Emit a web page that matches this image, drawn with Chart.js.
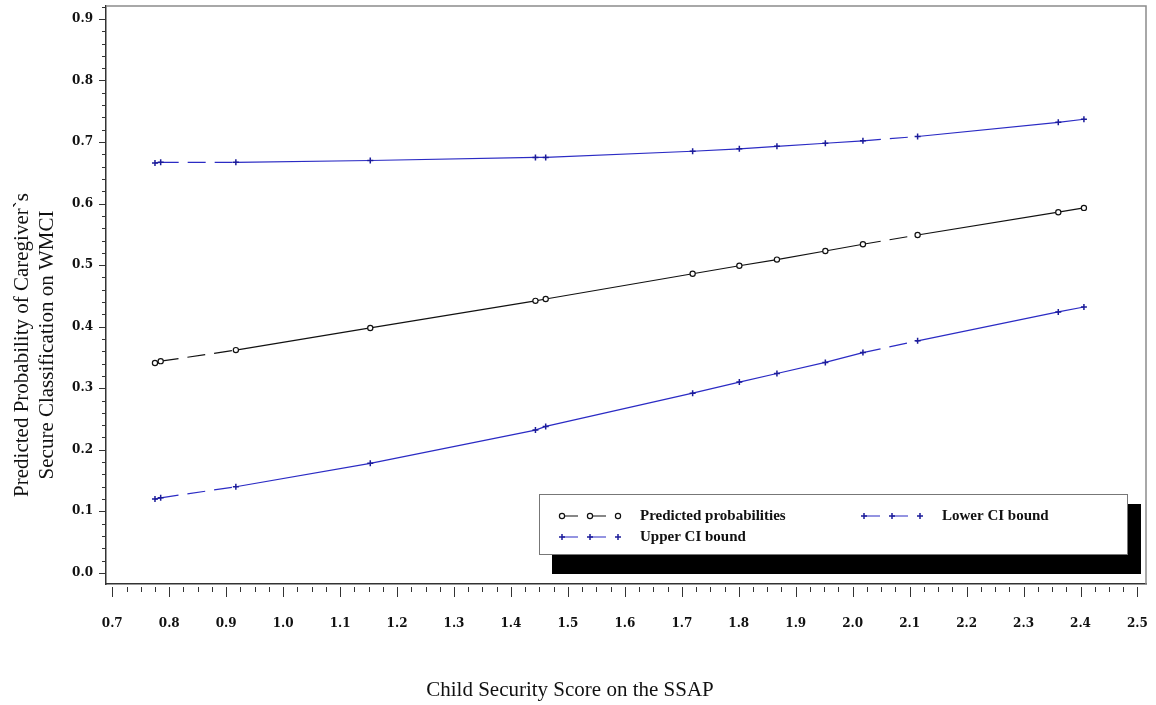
<!DOCTYPE html>
<html>
<head>
<meta charset="utf-8">
<script src="https://cdn.jsdelivr.net/npm/chart.js@4.4.0/dist/chart.umd.min.js"></script>
<style>
  html, body { margin: 0; padding: 0; background: #fff; }
  #wrap { width: 1156px; height: 705px; }
</style>
</head>
<body>
<div id="wrap"><canvas id="probChart" width="1156" height="705"></canvas></div>
<script>
// Child security score (x) of each fitted point
const securityScores = [0.775, 0.785, 0.917, 1.153, 1.443, 1.461, 1.719, 1.801, 1.867, 1.952, 2.018, 2.114, 2.361, 2.406];
// Predicted probability and its confidence bounds at those scores
const predicted = [0.341, 0.344, 0.362, 0.398, 0.442, 0.445, 0.486, 0.499, 0.509, 0.523, 0.534, 0.549, 0.586, 0.593];
const upperCI   = [0.666, 0.667, 0.667, 0.670, 0.675, 0.675, 0.685, 0.689, 0.693, 0.698, 0.702, 0.709, 0.732, 0.737];
const lowerCI   = [0.120, 0.122, 0.140, 0.178, 0.232, 0.238, 0.292, 0.310, 0.324, 0.342, 0.358, 0.377, 0.424, 0.432];

// tick labels
const xTicks = [0.7, 0.8, 0.9, 1.0, 1.1, 1.2, 1.3, 1.4, 1.5, 1.6, 1.7, 1.8, 1.9, 2.0, 2.1, 2.2, 2.3, 2.4, 2.5];
const yTicks = [0.0, 0.1, 0.2, 0.3, 0.4, 0.5, 0.6, 0.7, 0.8, 0.9];

const xTitle = 'Child Security Score on the SSAP';
const yTitle = ['Predicted Probability of Caregiver`s', 'Secure Classification on WMCI'];

// segments the SAS dash pattern shows as broken
const dashedSegments = [1, 10];

const BLUE = '#2b2bc4';
const tickFont = { family: '"DejaVu Serif"', size: 12, weight: 'bold' };

function points(values) {
    return securityScores.map((x, i) => ({ x: x, y: values[i] }));
}

function dashFor(ctx) {
    return dashedSegments.includes(ctx.p0DataIndex) ? [18, 9] : undefined;
}

// frame, minor/major tick marks, axis titles and the boxed legend
const sasDecor = {
    id: 'sasDecor',
    afterDraw(chart) {
        const { ctx, chartArea: a, scales: { x, y } } = chart;
        ctx.save();

        // grey frame on top and right
        ctx.strokeStyle = '#8c8c8c';
        ctx.lineWidth = 1.5;
        ctx.beginPath();
        ctx.moveTo(a.left, a.top);
        ctx.lineTo(a.right, a.top);
        ctx.lineTo(a.right, a.bottom);
        ctx.stroke();

        // y ticks: every 0.02, major every 0.1
        ctx.strokeStyle = '#333';
        ctx.lineWidth = 1;
        for (let k = 0; k <= 46; k++) {
            const py = Math.round(y.getPixelForValue(k * 0.02)) + 0.5;
            const len = k % 5 === 0 ? 7 : 4;
            ctx.beginPath();
            ctx.moveTo(a.left - len, py);
            ctx.lineTo(a.left, py);
            ctx.stroke();
        }
        // x ticks: every 0.025, major every 0.1, slightly below the axis
        for (let k = 0; k <= 72; k++) {
            const px = Math.round(x.getPixelForValue(0.7 + k * 0.025)) + 0.5;
            const len = k % 4 === 0 ? 10 : 5;
            ctx.beginPath();
            ctx.moveTo(px, a.bottom + 3);
            ctx.lineTo(px, a.bottom + 3 + len);
            ctx.stroke();
        }

        // axis titles
        ctx.fillStyle = '#111';
        ctx.font = '21px "Liberation Serif"';
        ctx.textAlign = 'center';
        ctx.textBaseline = 'middle';
        ctx.fillText(xTitle, 570, 690);
        yTitle.forEach((line, i) => {
            ctx.save();
            ctx.translate(22 + i * 25, 345);
            ctx.rotate(-Math.PI / 2);
            ctx.fillText(line, 0, 0);
            ctx.restore();
        });

        // legend with drop shadow
        ctx.fillStyle = '#000';
        ctx.fillRect(552, 504, 589, 70);
        ctx.fillStyle = '#fff';
        ctx.fillRect(539, 494, 589, 60);
        ctx.strokeStyle = '#777';
        ctx.lineWidth = 1;
        ctx.strokeRect(539.5, 494.5, 588, 60);

        const entries = [
            { ds: 0, x: 556, y: 516 },
            { ds: 1, x: 556, y: 537 },
            { ds: 2, x: 858, y: 516 }
        ];
        entries.forEach(e => {
            const d = chart.data.datasets[e.ds];
            ctx.strokeStyle = d.borderColor;
            ctx.lineWidth = 1.2;
            ctx.setLineDash([16, 12]);
            ctx.beginPath();
            ctx.moveTo(e.x + 6, e.y);
            ctx.lineTo(e.x + 62, e.y);
            ctx.stroke();
            ctx.setLineDash([]);
            [6, 34, 62].forEach(dx => {
                ctx.fillStyle = d.pointBackgroundColor;
                ctx.strokeStyle = d.pointBorderColor;
                ctx.lineWidth = d.pointBorderWidth;
                Chart.helpers.drawPoint(ctx, {
                    pointStyle: d.pointStyle, radius: d.pointRadius,
                    rotation: 0, borderWidth: d.pointBorderWidth
                }, e.x + dx, e.y);
            });
            ctx.fillStyle = '#111';
            ctx.font = 'bold 15px "Liberation Serif"';
            ctx.textAlign = 'left';
            ctx.textBaseline = 'middle';
            ctx.fillText(d.label, e.x + 84, e.y);
        });

        ctx.restore();
    }
};

new Chart(document.getElementById('probChart'), {
    type: 'line',
    data: {
        datasets: [{
            label: 'Predicted probabilities',
            data: points(predicted),
            borderColor: '#111',
            borderWidth: 1.2,
            pointStyle: 'circle',
            pointRadius: 2.6,
            pointBorderWidth: 1.2,
            pointBackgroundColor: '#fff',
            pointBorderColor: '#111',
            tension: 0,
            segment: { borderDash: dashFor }
        }, {
            label: 'Upper CI bound',
            data: points(upperCI),
            borderColor: BLUE,
            borderWidth: 1.2,
            pointStyle: 'cross',
            pointRadius: 3,
            pointBorderWidth: 1.5,
            pointBackgroundColor: BLUE,
            pointBorderColor: '#1c1c9a',
            tension: 0,
            segment: { borderDash: dashFor }
        }, {
            label: 'Lower CI bound',
            data: points(lowerCI),
            borderColor: BLUE,
            borderWidth: 1.2,
            pointStyle: 'cross',
            pointRadius: 3,
            pointBorderWidth: 1.5,
            pointBackgroundColor: BLUE,
            pointBorderColor: '#1c1c9a',
            tension: 0,
            segment: { borderDash: dashFor }
        }]
    },
    options: {
        responsive: false,
        animation: false,
        layout: { padding: { top: 6, right: 10, left: 0, bottom: 0 } },
        plugins: {
            legend: { display: false },
            tooltip: { enabled: false }
        },
        scales: {
            x: {
                type: 'linear',
                min: 0.689,
                max: 2.515,
                afterFit(s) {
                    s.height = 121;
                    s.paddingLeft = 0;
                    s.paddingRight = 0;
                },
                afterBuildTicks(s) { s.ticks = xTicks.map(v => ({ value: v })); },
                grid: { display: false, drawTicks: false },
                border: { display: true, color: '#333', width: 1.5 },
                ticks: {
                    padding: 33,
                    font: tickFont,
                    color: '#111',
                    maxRotation: 0,
                    autoSkip: false,
                    callback: v => v.toFixed(1)
                }
            },
            y: {
                type: 'linear',
                min: -0.018,
                max: 0.921,
                afterFit(s) {
                    s.width = 106;
                    s.paddingTop = 0;
                    s.paddingBottom = 0;
                },
                afterBuildTicks(s) { s.ticks = yTicks.map(v => ({ value: v })); },
                grid: { display: false, drawTicks: false },
                border: { display: true, color: '#333', width: 1.5 },
                ticks: {
                    padding: 13,
                    font: tickFont,
                    color: '#111',
                    autoSkip: false,
                    callback: v => v.toFixed(1)
                }
            }
        }
    },
    plugins: [sasDecor]
});
</script>
</body>
</html>
